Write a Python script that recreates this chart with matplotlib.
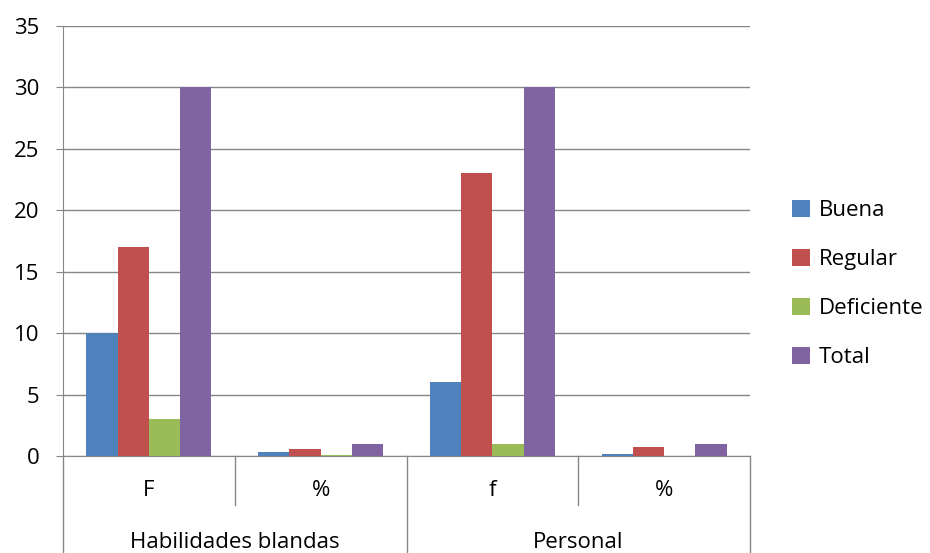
import numpy as np
import matplotlib.pyplot as plt

plt.rcParams['font.family'] = ['Open Sans', 'DejaVu Sans']

sub_labels = ['F', '%', 'f', '%']
groups = ['Habilidades blandas', 'Personal']
series = ['Buena', 'Regular', 'Deficiente', 'Total']
buena = [10, 0.33, 6, 0.2]
regular = [17, 0.57, 23, 0.77]
deficiente = [3, 0.1, 1, 0.03]
total = [30, 1, 30, 1]
colors = ['#4f81bd', '#c0504d', '#9bbb59', '#8064a2']

fig = plt.figure(figsize=(9.3, 5.53), dpi=100)
ax = fig.add_axes([63/930, 1 - 456/553, (750-63)/930, (456-26)/553])

vals = [buena, regular, deficiente, total]
x = np.arange(len(sub_labels))
w = 0.182
for i, (name, v) in enumerate(zip(series, vals)):
    ax.bar(x + (i - 1.5) * w, v, w, color=colors[i], label=name, zorder=3)

ax.set_xlim(-0.5, 3.5)
ax.set_ylim(0, 35)
ax.set_yticks(range(0, 36, 5))
ax.yaxis.grid(True, color='#868686', lw=1, zorder=0)
for s in ['top', 'right']:
    ax.spines[s].set_visible(False)
ax.spines['left'].set_color('#868686')
ax.spines['bottom'].set_color('#868686')
ax.tick_params(axis='y', length=5, color='#868686', labelsize=16, pad=12)
ax.set_xticks([])

# multi-level category axis
trans = ax.get_xaxis_transform()
inner = 49 / 430
outer = 97 / 430
for xb in [-0.5, 1.5, 3.5]:
    ax.plot([xb, xb], [0, -outer], color='#868686', lw=1, transform=trans, clip_on=False)
for xb in [0.5, 2.5]:
    ax.plot([xb, xb], [0, -inner], color='#868686', lw=1, transform=trans, clip_on=False)
for xi, lab in zip(x, sub_labels):
    ax.text(xi, -34/430, lab, transform=trans, ha='center', va='center', fontsize=16)
for gi, g in enumerate(groups):
    ax.text(0.5 + 2 * gi, -86/430, g, transform=trans, ha='center', va='center', fontsize=16)

ax.legend(loc='center left', bbox_to_anchor=(792/930, 1 - 284/553), bbox_transform=fig.transFigure,
          frameon=False, fontsize=16, borderaxespad=0, borderpad=0,
          handlelength=0.8, handleheight=0.8, labelspacing=1.25, handletextpad=0.4)

fig.savefig('out.png', dpi=100)
